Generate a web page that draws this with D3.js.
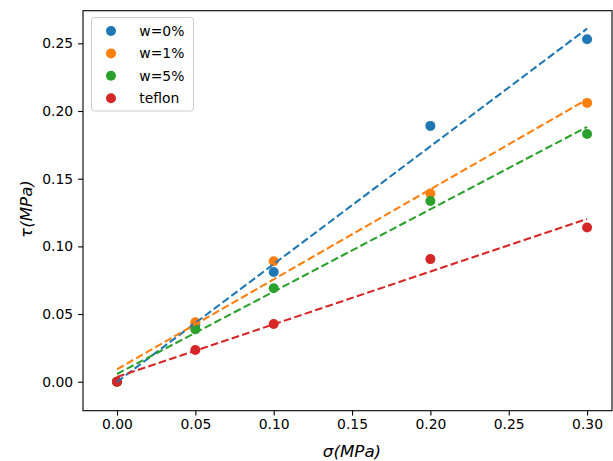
<!DOCTYPE html>
<html>
<head>
<meta charset="utf-8">
<script src="https://cdn.jsdelivr.net/npm/d3@7"></script>
<style>
  body { margin: 0; background: #fff; }
  svg { display: block; }
  text { font-family: "DejaVu Sans", sans-serif; fill: #000; }
</style>
</head>
<body>
<svg id="chart" width="613" height="461"></svg>
<script>
// ---- data ----
const sigma = [0, 0.05, 0.10, 0.20, 0.30];
const tauW0 = [0, 0.042, 0.081, 0.189, 0.253];
const tauW1 = [0, 0.044, 0.089, 0.139, 0.206];
const tauW5 = [0, 0.0387, 0.069, 0.1335, 0.183];
const tauTeflon = [0, 0.0234, 0.0426, 0.0906, 0.114];
const seriesNames = ["w=0%", "w=1%", "w=5%", "teflon"];
const seriesColors = ["#1f77b4", "#ff7f0e", "#2ca02c", "#d62728"];
const xTicks = [0, 0.05, 0.10, 0.15, 0.20, 0.25, 0.30];
const yTicks = [0, 0.05, 0.10, 0.15, 0.20, 0.25];

const seriesValues = [tauW0, tauW1, tauW5, tauTeflon];

// ---- layout ----
const mLeft = 83, mRight = 612, mTop = 10.7, mBottom = 410.7;
const x = d3.scaleLinear().domain([-0.0217, 0.3159]).range([mLeft, mRight]);
const y = d3.scaleLinear().domain([-0.0214, 0.2741]).range([mBottom, mTop]);

const svg = d3.select("#chart");

function fit(xs, ys) {
  const mx = d3.mean(xs), my = d3.mean(ys);
  let sxy = 0, sxx = 0;
  xs.forEach((v, i) => { sxy += (v - mx) * (ys[i] - my); sxx += (v - mx) * (v - mx); });
  const m = sxy / sxx;
  return { m, b: my - m * mx };
}

// scatter (drawn first, lines on top like matplotlib)
seriesValues.forEach((vals, si) => {
  svg.append("g").selectAll("circle")
    .data(vals.map((v, i) => [sigma[i], v]))
    .join("circle")
    .attr("cx", d => x(d[0]))
    .attr("cy", d => y(d[1]))
    .attr("r", 5)
    .attr("fill", seriesColors[si]);
});

// fit lines
const line = d3.line().x(d => x(d[0])).y(d => y(d[1]));
seriesValues.forEach((vals, si) => {
  const f = fit(sigma, vals);
  const xs = [d3.min(sigma), d3.max(sigma)];
  svg.append("path")
    .datum(xs.map(v => [v, f.m * v + f.b]))
    .attr("d", line)
    .attr("fill", "none")
    .attr("stroke", seriesColors[si])
    .attr("stroke-width", 2.08)
    .attr("stroke-dasharray", "7.7,3.3");
});

// axes
const xAxis = svg.append("g").attr("transform", `translate(0,${mBottom})`)
  .call(d3.axisBottom(x).tickValues(xTicks).tickFormat(d3.format(".2f")).tickSize(4.9).tickPadding(3.5));
const yAxis = svg.append("g").attr("transform", `translate(${mLeft},0)`)
  .call(d3.axisLeft(y).tickValues(yTicks).tickFormat(d3.format(".2f")).tickSize(4.9).tickPadding(4.9));
[xAxis, yAxis].forEach(a => {
  a.select(".domain").remove();
  a.selectAll(".tick line").attr("stroke", "#000").attr("stroke-width", 1.1);
  a.selectAll(".tick text").attr("font-size", "13.9px").attr("font-family", "DejaVu Sans").attr("fill", "#000");
});

// frame
svg.append("rect")
  .attr("x", mLeft).attr("y", mTop)
  .attr("width", mRight - mLeft).attr("height", mBottom - mTop)
  .attr("fill", "none").attr("stroke", "#000").attr("stroke-width", 1.1);

// axis labels
svg.append("text")
  .attr("x", 352).attr("y", 457)
  .attr("text-anchor", "middle")
  .attr("font-size", "16.7px")
  .attr("font-style", "italic")
  .text("σ(MPa)");
svg.append("text")
  .attr("transform", "translate(32,209) rotate(-90)")
  .attr("text-anchor", "middle")
  .attr("font-size", "16.7px")
  .attr("font-style", "italic")
  .text("τ(MPa)");

// legend
const lg = svg.append("g");
lg.append("rect")
  .attr("x", 91.5).attr("y", 17.5).attr("width", 102).attr("height", 93.5)
  .attr("rx", 3).attr("fill", "#fff").attr("fill-opacity", 0.8)
  .attr("stroke", "#cccccc").attr("stroke-width", 1);
seriesNames.forEach((name, i) => {
  const yy = 31 + i * 22.4;
  lg.append("circle").attr("cx", 111).attr("cy", yy).attr("r", 5).attr("fill", seriesColors[i]);
  lg.append("text").attr("x", 139.3).attr("y", yy).attr("dy", "0.36em")
    .attr("font-size", "13.9px").text(name);
});
</script>
</body>
</html>
